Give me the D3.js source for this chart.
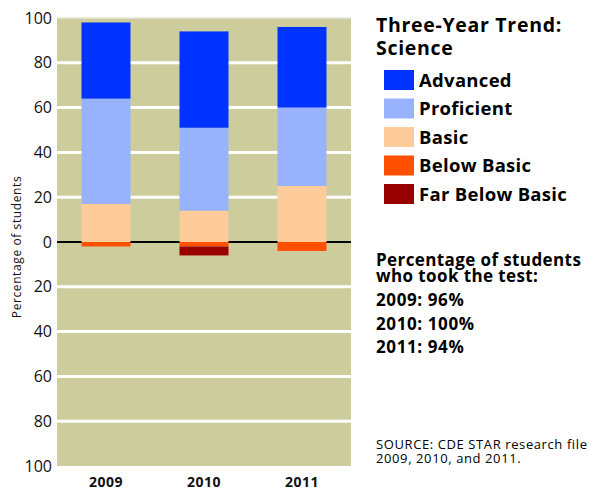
<!DOCTYPE html>
<html>
<head>
<meta charset="utf-8">
<script src="https://cdn.jsdelivr.net/npm/d3@7"></script>
<style>
  body { margin: 0; background: #fff; }
  svg { display: block; font-family: "Open Sans", "Noto Sans", sans-serif; }
</style>
</head>
<body>
<svg id="chart" width="589" height="491"></svg>
<script>
// Data
const years = ['2009', '2010', '2011'];
const levels = ['Basic', 'Proficient', 'Advanced', 'Below Basic', 'Far Below Basic'];
const legendOrder = ['Advanced', 'Proficient', 'Basic', 'Below Basic', 'Far Below Basic'];
const advanced = [34, 43, 36];
const proficient = [47, 37, 35];
const basic = [17, 14, 25];
const belowBasic = [2, 2, 4];
const farBelowBasic = [0, 4, 0];
const tested = ['2009: 96%', '2010: 100%', '2011: 94%'];
const yTicks = [-100, -80, -60, -40, -20, 0, 20, 40, 60, 80, 100];

const colors = {
  'Advanced': '#0033ff',
  'Proficient': '#99b2fd',
  'Basic': '#fecb9a',
  'Below Basic': '#ff5000',
  'Far Below Basic': '#990000'
};

// below-proficient levels hang under the zero line
const rows = years.map((y, i) => ({
  year: y,
  'Basic': basic[i],
  'Proficient': proficient[i],
  'Advanced': advanced[i],
  'Below Basic': -belowBasic[i],
  'Far Below Basic': -farBelowBasic[i]
}));

const margin = { top: 18, left: 57, right: 238, bottom: 25 };
const width = 589, height = 491;
const innerW = width - margin.left - margin.right;
const innerH = height - margin.top - margin.bottom;

const svg = d3.select('#chart');
const g = svg.append('g').attr('transform', `translate(${margin.left},${margin.top})`);

const x = d3.scaleBand().domain(years).range([0, innerW]).paddingInner(0.5).paddingOuter(0.25);
const y = d3.scaleLinear().domain([-100, 100]).range([innerH, 0]);

// plot background
g.append('rect')
  .attr('width', innerW)
  .attr('height', innerH)
  .attr('fill', '#cccc9c');
g.append('line')
  .attr('x1', 0).attr('x2', innerW)
  .attr('y1', 0).attr('y2', 0)
  .attr('stroke', '#e8e6d6').attr('stroke-width', 1.5);

// white gridlines
g.append('g')
  .selectAll('line')
  .data(yTicks.filter(d => d !== 0 && Math.abs(d) !== 100))
  .join('line')
  .attr('x1', 0).attr('x2', innerW)
  .attr('y1', d => y(d)).attr('y2', d => y(d))
  .attr('stroke', '#fff')
  .attr('stroke-width', 3);

// zero line
g.append('line')
  .attr('x1', 0).attr('x2', innerW)
  .attr('y1', y(0)).attr('y2', y(0))
  .attr('stroke', '#000')
  .attr('stroke-width', 2);

// stacked bars
const series = d3.stack().keys(levels).offset(d3.stackOffsetDiverging)(rows);
g.append('g')
  .selectAll('g')
  .data(series)
  .join('g')
  .attr('fill', d => colors[d.key])
  .selectAll('rect')
  .data(d => d)
  .join('rect')
  .attr('x', d => x(d.data.year))
  .attr('width', x.bandwidth())
  .attr('y', d => y(Math.max(d[0], d[1])))
  .attr('height', d => Math.abs(y(d[0]) - y(d[1])));

// y axis labels
const yAxis = g.append('g')
  .call(d3.axisLeft(y).tickValues(yTicks).tickSize(0).tickPadding(5).tickFormat(d => Math.abs(d)));
yAxis.select('.domain').remove();
yAxis.selectAll('text')
  .attr('font-size', 16)
  .attr('font-family', '"Open Sans", sans-serif')
  .attr('fill', '#111');

svg.append('text')
  .attr('transform', `translate(21,247) rotate(-90)`)
  .attr('text-anchor', 'middle')
  .attr('font-size', 12)
  .attr('letter-spacing', 0.6)
  .attr('fill', '#111')
  .text('Percentage of students');

// x axis labels
const xAxis = g.append('g')
  .attr('transform', `translate(0,${innerH})`)
  .call(d3.axisBottom(x).tickSize(0).tickPadding(11));
xAxis.select('.domain').remove();
xAxis.selectAll('text')
  .attr('font-size', 14)
  .attr('letter-spacing', 0.5)
  .attr('font-weight', 'bold')
  .attr('font-family', '"Open Sans", sans-serif')
  .attr('fill', '#111');

// legend block
const side = svg.append('g').attr('transform', 'translate(376,0)');
side.append('text')
  .attr('y', 31.5)
  .attr('font-size', 19.5)
  .attr('letter-spacing', 0.7)
  .attr('font-weight', 'bold')
  .text('Three-Year Trend:');
side.append('text')
  .attr('y', 55)
  .attr('font-size', 19.5)
  .attr('letter-spacing', 0.7)
  .attr('font-weight', 'bold')
  .text('Science');

const legend = side.append('g')
  .selectAll('g')
  .data(legendOrder)
  .join('g')
  .attr('transform', (d, i) => `translate(8,${70 + i * 28.5})`);
legend.append('rect')
  .attr('width', 30)
  .attr('height', 20)
  .attr('fill', d => colors[d]);
legend.append('text')
  .attr('x', 35)
  .attr('y', 16.5)
  .attr('font-size', 18.5)
  .attr('letter-spacing', 0.3)
  .attr('font-weight', 'bold')
  .text(d => d);

side.append('text')
  .attr('y', 265.5)
  .attr('font-size', 17)
  .attr('letter-spacing', 0.4)
  .attr('font-weight', 'bold')
  .text('Percentage of students');
side.append('text')
  .attr('y', 282)
  .attr('font-size', 17)
  .attr('letter-spacing', 0.4)
  .attr('font-weight', 'bold')
  .text('who took the test:');
side.selectAll('text.tested')
  .data(tested)
  .join('text')
  .attr('class', 'tested')
  .attr('y', (d, i) => 306 + i * 23.6)
  .attr('font-size', 17)
  .attr('letter-spacing', 0.6)
  .attr('font-weight', 'bold')
  .text(d => d);

side.append('text')
  .attr('y', 449)
  .attr('font-size', 13)
  .attr('letter-spacing', 0.6)
  .text('SOURCE: CDE STAR research file');
side.append('text')
  .attr('y', 462.5)
  .attr('font-size', 13)
  .attr('letter-spacing', 0.6)
  .text('2009, 2010, and 2011.');
</script>
</body>
</html>
